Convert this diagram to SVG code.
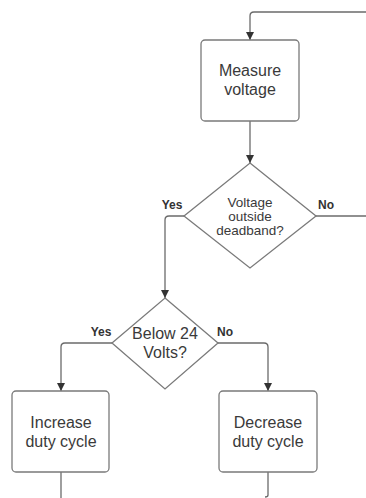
<svg xmlns="http://www.w3.org/2000/svg" width="366" height="498" viewBox="0 0 366 498">
<defs>
<style>
.box{fill:#fff;stroke:#7a7a7a;stroke-width:1.3}
.dia{fill:#fff;stroke:#7a7a7a;stroke-width:1.3}
.ln{fill:none;stroke:#6b6b6b;stroke-width:1.3}
.t{font-family:"Liberation Sans",Arial,sans-serif;fill:#3a3a3a;text-anchor:middle}
.lbl{font-family:"Liberation Sans",Arial,sans-serif;fill:#333;font-weight:bold;font-size:12px;text-anchor:middle}
</style>
<marker id="arr" viewBox="0 0 10 10" refX="10" refY="5" markerWidth="8" markerHeight="8" markerUnits="userSpaceOnUse" orient="auto">
<path d="M0,0 L10,5 L0,10 Z" fill="#333"/>
</marker>
</defs>
<rect width="366" height="498" fill="#fff"/>
<g id="connectors">
<path class="ln" d="M366,12 H254 Q250,12 250,16 V40" marker-end="url(#arr)"/>
<path class="ln" d="M250,121 V163" marker-end="url(#arr)"/>
<path class="ln" d="M316,216 H366"/>
<path class="ln" d="M184,216 H169 Q165,216 165,220 V298" marker-end="url(#arr)"/>
<path class="ln" d="M112,343 H65 Q61,343 61,347 V391" marker-end="url(#arr)"/>
<path class="ln" d="M218,343 H264 Q268,343 268,347 V391" marker-end="url(#arr)"/>
<path class="ln" d="M61,472 V498"/>
<path class="ln" d="M268,472 V495 Q268,497 265,497"/>
</g>
<g id="measure">
<rect class="box" x="201" y="40" width="98" height="81" rx="4"/>
<text class="t" x="250" y="76" font-size="16">Measure</text>
<text class="t" x="250" y="95" font-size="16">voltage</text>
</g>
<g id="decision1">
<polygon class="dia" points="250,163 316,216 250,268 184,216"/>
<text class="t" x="250" y="206.5" font-size="13.5">Voltage</text>
<text class="t" x="250" y="220.5" font-size="13.5">outside</text>
<text class="t" x="250" y="234.5" font-size="13.5">deadband?</text>
</g>
<g id="decision2">
<polygon class="dia" points="165,298 218,343 165,389 112,343"/>
<text class="t" x="165" y="339" font-size="16">Below 24</text>
<text class="t" x="165" y="358" font-size="16">Volts?</text>
</g>
<g id="increase">
<rect class="box" x="12" y="391" width="97" height="81" rx="4"/>
<text class="t" x="61" y="428" font-size="16">Increase</text>
<text class="t" x="61" y="447" font-size="16">duty cycle</text>
</g>
<g id="decrease">
<rect class="box" x="219" y="391" width="98" height="81" rx="4"/>
<text class="t" x="268" y="428" font-size="16">Decrease</text>
<text class="t" x="268" y="447" font-size="16">duty cycle</text>
</g>
<g id="labels">
<text class="lbl" x="172" y="209">Yes</text>
<text class="lbl" x="326" y="209">No</text>
<text class="lbl" x="101" y="336">Yes</text>
<text class="lbl" x="225" y="336">No</text>
</g>
</svg>
